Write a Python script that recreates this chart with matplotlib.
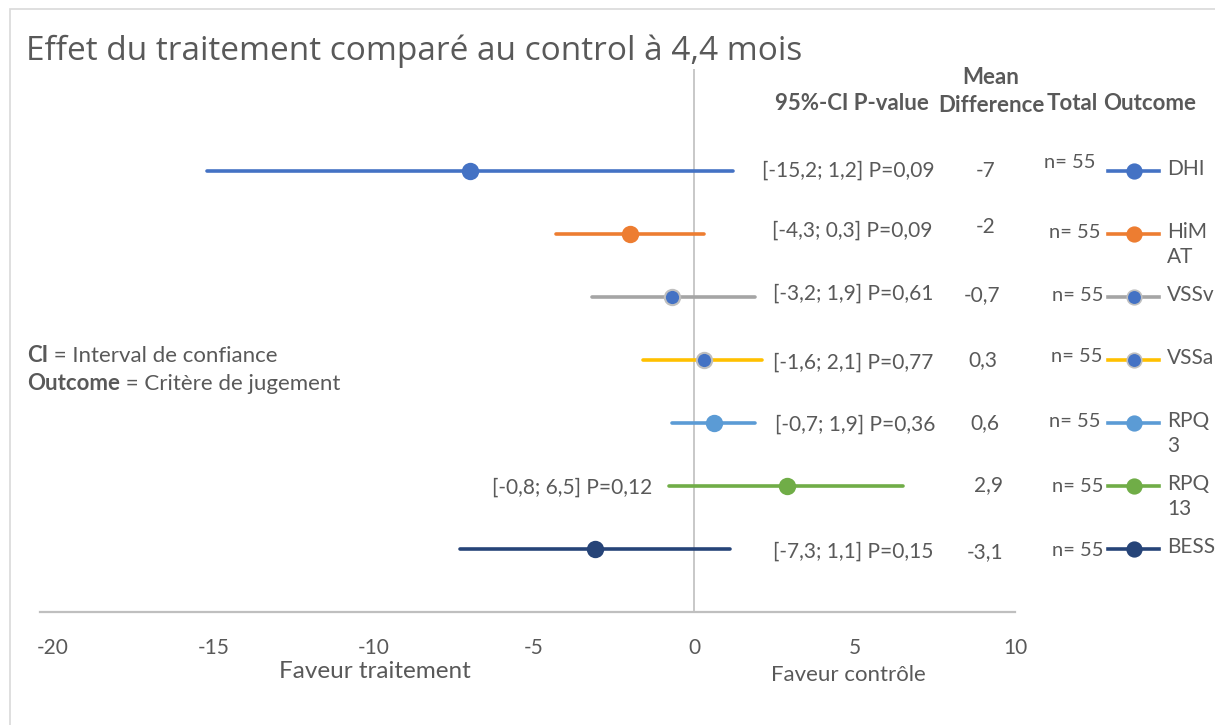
import matplotlib.pyplot as plt
from matplotlib.patches import Rectangle

plt.rcParams['font.family'] = ['Lato', 'DejaVu Sans']

# Data
outcomes = ['DHI', 'HiMAT', 'VSSv', 'VSSa', 'RPQ3', 'RPQ13', 'BESS']
legend_labels = ['DHI', 'HiM\nAT', 'VSSv', 'VSSa', 'RPQ\n3', 'RPQ\n13', 'BESS']
mean_diff = [-7, -2, -0.7, 0.3, 0.6, 2.9, -3.1]
ci_low = [-15.2, -4.3, -3.2, -1.6, -0.7, -0.8, -7.3]
ci_high = [1.2, 0.3, 1.9, 2.1, 1.9, 6.5, 1.1]
p_values = ['0,09', '0,09', '0,61', '0,77', '0,36', '0,12', '0,15']
totals = [55, 55, 55, 55, 55, 55, 55]
rows = [7, 6, 5, 4, 3, 2, 1]
xticks = [-20, -15, -10, -5, 0, 5, 10]

colors = ['#4472C4', '#ED7D31', '#A5A5A5', '#FFC000', '#5B9BD5', '#70AD47', '#264478']
face = ['#4472C4', '#ED7D31', '#4472C4', '#4472C4', '#5B9BD5', '#70AD47', '#264478']
edge = ['#4472C4', '#ED7D31', '#BFBFBF', '#BFBFBF', '#5B9BD5', '#70AD47', '#264478']

TXT = '#595959'
FS = 15


def fmt(v):
    return f'{v:g}'.replace('.', ',')


fig = plt.figure(figsize=(12.15, 7.25), dpi=100)
fig.patches.append(Rectangle((10 / 1215, -0.1), 1.2, 1 - 9 / 725 + 0.1,
                             transform=fig.transFigure, fill=False,
                             edgecolor='#D9D9D9', linewidth=1.2))

ax = fig.add_axes([40 / 1215, 1 - 612 / 725, 975 / 1215, 572 / 725])
ax.set_xlim(-20.4, 10)
ax.set_ylim(0, 9.08)

for sp in ['top', 'right', 'left']:
    ax.spines[sp].set_visible(False)
ax.spines['bottom'].set_color('#BFBFBF')
ax.spines['bottom'].set_linewidth(1.6)
ax.axvline(0, color='#BFBFBF', linewidth=1.2, zorder=1)

ax.set_xticks(xticks)
ax.set_xticklabels([str(t) for t in xticks], fontsize=FS, color=TXT)
ax.tick_params(axis='x', length=0, pad=19)
ax.set_yticks([])

for i in range(len(outcomes)):
    y = rows[i]
    ax.plot([ci_low[i], ci_high[i]], [y, y], color=colors[i], linewidth=2.6,
            solid_capstyle='round', zorder=2)
    ax.plot(mean_diff[i], y, 'o', markersize=11, markerfacecolor=face[i],
            markeredgecolor=edge[i], markeredgewidth=1.5, zorder=3)

# CI / p-value labels (label anchor, in data units)
ci_x = [2.12, 2.43, 2.46, 2.46, 2.53, -1.31, 2.46]
ci_y = [7.0, 6.06, 5.05, 3.95, 2.98, 1.98, 0.95]
for i in range(len(outcomes)):
    label = f'[{fmt(ci_low[i])}; {fmt(ci_high[i])}] P={p_values[i]}'
    ha = 'right' if ci_x[i] < 0 else 'left'
    ax.text(ci_x[i], ci_y[i], label, ha=ha, va='center', fontsize=FS, color=TXT)

# Mean difference column
md_x = [9.07, 9.07, 8.98, 9.01, 9.07, 9.17, 9.07]
md_y = [7.0, 6.11, 5.03, 4.0, 3.0, 2.02, 0.95]
for i in range(len(outcomes)):
    ax.text(md_x[i], md_y[i], fmt(mean_diff[i]), ha='center', va='center',
            fontsize=FS, color=TXT)

# Total column + legend-like outcome markers
n_x = [11.72, 11.87, 11.97, 11.94, 11.87, 11.97, 11.97]
n_y = [7.13, 6.02, 5.02, 4.05, 3.02, 2.0, 0.97]
for i in range(len(outcomes)):
    y = rows[i]
    ax.text(n_x[i], n_y[i], f'n= {totals[i]}', ha='center', va='center',
            fontsize=14.5, color=TXT, clip_on=False)
    ax.plot([12.9, 14.5], [y, y], color=colors[i], linewidth=2.6,
            clip_on=False, zorder=2)
    ax.plot(13.7, y, 'o', markersize=10.5, markerfacecolor=face[i],
            markeredgecolor=edge[i], markeredgewidth=1.2, clip_on=False, zorder=3)
    ax.text(14.75, y + 0.19, legend_labels[i], ha='left', va='top',
            fontsize=FS, color=TXT, linespacing=1.3, clip_on=False)

# Column headers
hdr = dict(fontsize=16, fontweight='bold', color=TXT, va='center',
           transform=fig.transFigure)
fig.text(991 / 1215, 1 - 77 / 725, 'Mean', ha='center', **hdr)
fig.text(991 / 1215, 1 - 105 / 725, 'Difference', ha='center', **hdr)
fig.text(852 / 1215, 1 - 103 / 725, '95%-CI P-value', ha='center', **hdr)
fig.text(1072 / 1215, 1 - 103 / 725, 'Total', ha='center', **hdr)
fig.text(1150 / 1215, 1 - 103 / 725, 'Outcome', ha='center', **hdr)

# Title (sits in front of the plot area, like the original)
fig.text(26 / 1215, 1 - 51 / 725, 'Effet du traitement comparé au control à 4,4 mois',
         ha='left', va='center', fontsize=24, color=TXT,
         family=['Open Sans', 'DejaVu Sans'], zorder=10,
         bbox=dict(facecolor='white', edgecolor='none', pad=1))

# Side notes
t1 = fig.text(27 / 1215, 1 - 355 / 725, 'CI', ha='left', va='center',
              fontsize=16, fontweight='bold', color=TXT)
ax.annotate(' = Interval de confiance', xy=(1, 0), xycoords=t1, va='bottom',
            fontsize=16, color=TXT)
t2 = fig.text(27 / 1215, 1 - 383 / 725, 'Outcome', ha='left', va='center',
              fontsize=16, fontweight='bold', color=TXT)
ax.annotate(' = Critère de jugement', xy=(1, 0), xycoords=t2, va='bottom',
            fontsize=16, color=TXT)

# Axis captions
fig.text(375 / 1215, 1 - 672 / 725, 'Faveur traitement', ha='center', va='center',
         fontsize=17.5, color=TXT)
fig.text(848 / 1215, 1 - 675 / 725, 'Faveur contrôle', ha='center', va='center',
         fontsize=16, color=TXT)

fig.savefig('out.png', dpi=100)
